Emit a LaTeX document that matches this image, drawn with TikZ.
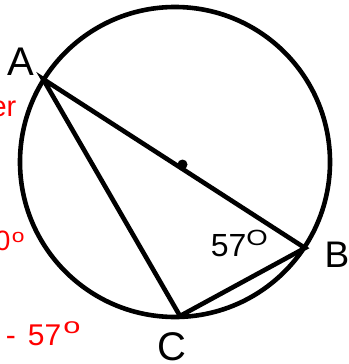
\documentclass[tikz,border=0pt]{standalone}
\usepackage{fontspec}
\setmainfont{Liberation Sans}
\newcommand{\fsz}[1]{\fontsize{#1}{#1}\selectfont}
\begin{document}
\begin{tikzpicture}[x=1pt,y=-1pt,
  edge/.style={line width=4.6pt, line join=miter},
  lbl/.style={inner sep=0pt, text=black},
  redlbl/.style={inner sep=0pt, text=red}]
\useasboundingbox (0,0) rectangle (348,364);
\coordinate (O) at (175,162);
\coordinate (A) at (43,79);
\coordinate (B) at (305,248);
\coordinate (C) at (180,316);
\coordinate (D) at (182.5,164.5);
% circle
\draw[edge] (O) circle[radius=155pt];
% triangle
\draw[edge] (A) -- (B) -- (C) -- cycle;
% centre dot
\fill (D) circle[radius=5pt];
% vertex labels
\node[lbl, anchor=base, font=\fsz{40}] (la) at (21,75) {A};
\node[lbl, anchor=base west, font=\fsz{37}] (lb) at (324.3,267) {B};
\node[lbl, anchor=base, font=\fsz{40}] (lc) at (171.5,360.5) {C};
% angle label
\node[lbl, anchor=base west, font=\fsz{32}] (ang) at (210.6,256)
  {57\raisebox{11pt}{\scalebox{1.25}[1]{\fsz{22}O}}};
% red partial texts
\node[redlbl, anchor=base east, font=\fsz{29}] (r1) at (16.5,116) {er};
\node[redlbl, anchor=base west, font=\fsz{28}] (r2) at (-5.3,250)
  {0\hspace{1.5pt}\raisebox{8pt}{\scalebox{1.2}[1]{\fsz{19}o}}};
\node[redlbl, anchor=base west, font=\fsz{30}] (r3) at (5.7,345)
  {-\hspace{12pt}57\hspace{2pt}\raisebox{12pt}{\scalebox{1.4}[1]{\fsz{22}o}}};
\end{tikzpicture}
\end{document}
